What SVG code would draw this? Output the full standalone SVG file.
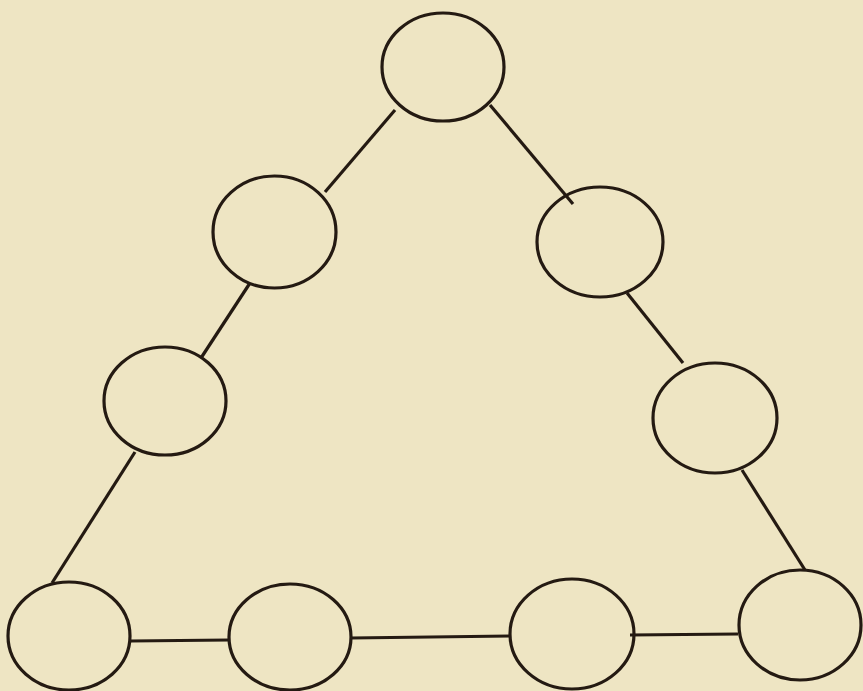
<svg xmlns="http://www.w3.org/2000/svg" width="863" height="691" viewBox="0 0 863 691">
<style>
.n{fill:none;stroke:#241a12;stroke-width:3.2}
.c line{stroke:#241a12;stroke-width:3.2;stroke-linecap:butt}
</style>
<rect x="0" y="0" width="863" height="691" fill="#eee5c3"/>
<g class="c" id="connectors">
<line x1="395" y1="110" x2="325" y2="192"/>
<line x1="490" y1="105" x2="573" y2="204"/>
<line x1="250" y1="283" x2="201" y2="358"/>
<line x1="627" y1="293" x2="683" y2="363"/>
<line x1="135" y1="452" x2="52" y2="583"/>
<line x1="742" y1="470" x2="805" y2="570"/>
<line x1="130" y1="641" x2="229" y2="640"/>
<line x1="351" y1="638" x2="510" y2="636"/>
<line x1="630" y1="635" x2="738" y2="634"/>
</g>
<g id="n1"><ellipse class="n" cx="443" cy="67" rx="61" ry="54"/></g>
<g id="n2"><ellipse class="n" cx="274.5" cy="232" rx="61.5" ry="56"/></g>
<g id="n3"><ellipse class="n" cx="600" cy="242" rx="63" ry="55"/></g>
<g id="n4"><ellipse class="n" cx="165" cy="401" rx="61" ry="54"/></g>
<g id="n5"><ellipse class="n" cx="715" cy="418" rx="62" ry="55"/></g>
<g id="n6"><ellipse class="n" cx="69" cy="636" rx="61" ry="54"/></g>
<g id="n7"><ellipse class="n" cx="290" cy="637" rx="61" ry="53"/></g>
<g id="n8"><ellipse class="n" cx="572" cy="634" rx="62" ry="55"/></g>
<g id="n9"><ellipse class="n" cx="800" cy="625" rx="61" ry="55"/></g>
</svg>
